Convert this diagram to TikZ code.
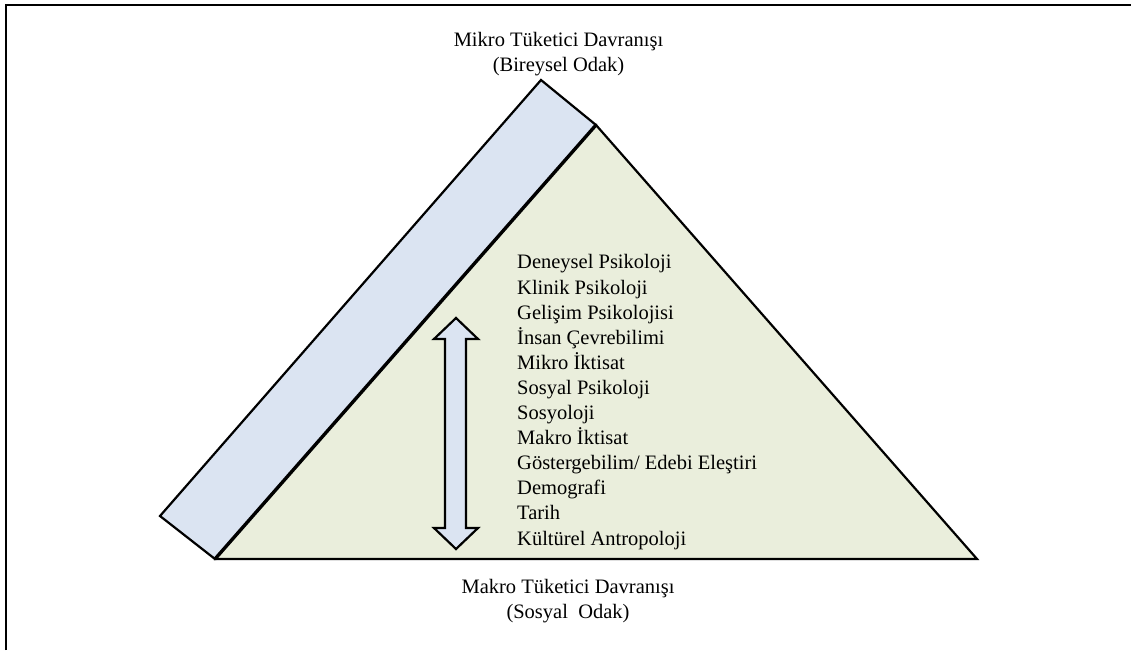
\documentclass[tikz,border=0pt]{standalone}
\usepackage{fontspec}
\setmainfont{Liberation Serif}
\definecolor{bandblue}{RGB}{219,228,242}
\definecolor{pyrgreen}{RGB}{234,238,220}
\begin{document}
\begin{tikzpicture}[x=1pt,y=-1pt,
  outline/.style={draw=black,line width=2.2pt,line join=miter},
  label/.style={font=\fontsize{20.5}{25}\selectfont,inner sep=0pt,anchor=base},
  listtext/.style={font=\fontsize{20.5}{25.1}\selectfont,inner sep=0pt,align=left,anchor=north west}]
\useasboundingbox (0,0) rectangle (1131,650);

% frame edges
\draw[line width=2pt] (6,650) -- (6,5) -- (1131,5);

% corners of the pyramid and its side band
\coordinate (bl) at (215,559);
\coordinate (br) at (977,559);
\coordinate (apex) at (596,125);
\coordinate (bandlow) at (160,516);
\coordinate (bandtop) at (541,80);

% green pyramid
\fill[pyrgreen] (bl) -- (apex) -- (br) -- cycle;
% blue band on the left side
\fill[bandblue] (bl) -- (bandlow) -- (bandtop) -- (apex) -- cycle;
\draw[outline] (bl) -- (bandlow) -- (bandtop) -- (apex) -- (br) -- cycle;
\draw[line width=3.4pt,line cap=round] (bl) -- (apex);

% vertical double arrow
\coordinate (atop) at (456,318);
\coordinate (abot) at (456,549);
\draw[outline,fill=bandblue]
  (atop) -- (478,339) -- (466,339) -- (466,528) -- (478,528) -- (abot)
  -- (434,528) -- (445,528) -- (445,339) -- (434,339) -- cycle;

% labels
\node[label] (mikro) at (558.5,47) {Mikro Tüketici Davranışı};
\node[label] (bireysel) at (558.5,72) {(Bireysel Odak)};
\node[label] (makro) at (568,593) {Makro Tüketici Davranışı};
\node[label] (sosyal) at (568,618) {(Sosyal\ \ Odak)};

% disciplines
\node[listtext] (list) at (517,254.5) {Deneysel Psikoloji\\
Klinik Psikoloji\\
Gelişim Psikolojisi\\
İnsan Çevrebilimi\\
Mikro İktisat\\
Sosyal Psikoloji\\
Sosyoloji\\
Makro İktisat\\
Göstergebilim/ Edebi Eleştiri\\
Demografi\\
Tarih\\
Kültürel Antropoloji};
\end{tikzpicture}
\end{document}
